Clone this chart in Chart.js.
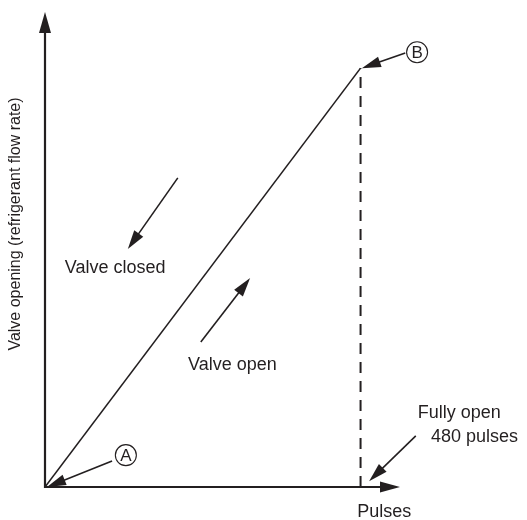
<!DOCTYPE html>
<html lang="en">
<head>
    <meta charset="UTF-8">
    <title>Valve opening vs pulses</title>
    <script src="https://cdn.jsdelivr.net/npm/chart.js@4.4.1/dist/chart.umd.min.js"></script>
    <style>
        body {
            margin: 0;
            background-color: #ffffff;
        }
        #valveChart {
            display: block;
        }
    </style>
</head>
<body>
    <canvas id="valveChart" width="527" height="520"></canvas>

    <script>
        // Characteristic: opening rises linearly from A (0 pulses) to B (480 pulses)
        const pulses = [0, 480];
        const opening = [0, 100];
        const fullyOpenPulses = [480, 480];
        const fullyOpenLevel = [0, 100];

        const ink = '#231f20';
        const fontFamily = '"Liberation Sans", Arial, sans-serif';

        // Annotations, placed in data units (pulses, % opening)
        const arrows = [
            { from: [202, 73.8], to: [126, 56.8] },   // valve closed
            { from: [237, 34.6], to: [312, 49.9] },   // valve open
            { from: [102, 6.2], to: [3, 0] },         // A
            { from: [548, 103.6], to: [482, 100] },   // B
            { from: [564, 12.2], to: [493, 1.4] }     // fully open
        ];
        const markers = [
            { text: 'A', at: [123, 7.6] },
            { text: 'B', at: [566, 103.8] }
        ];
        const labels = [
            { text: 'Valve closed', at: [30, 52.3], align: 'left' },
            { text: 'Valve open', at: [217.5, 29.1], align: 'left' },
            { text: 'Fully open', at: [567, 17.7], align: 'left' },
            { text: '480 pulses', at: [587, 11.9], align: 'left' },
            { text: 'Pulses', at: [516, -6], align: 'center' }
        ];

        function arrowHead(ctx, x1, y1, x2, y2, len, half) {
            const a = Math.atan2(y2 - y1, x2 - x1);
            ctx.beginPath();
            ctx.moveTo(x2, y2);
            ctx.lineTo(x2 - len * Math.cos(a) + half * Math.sin(a), y2 - len * Math.sin(a) - half * Math.cos(a));
            ctx.lineTo(x2 - len * Math.cos(a) - half * Math.sin(a), y2 - len * Math.sin(a) + half * Math.cos(a));
            ctx.closePath();
            ctx.fill();
        }

        function arrow(ctx, x1, y1, x2, y2, width, len, half) {
            const a = Math.atan2(y2 - y1, x2 - x1);
            ctx.lineWidth = width;
            ctx.beginPath();
            ctx.moveTo(x1, y1);
            ctx.lineTo(x2 - (len - 2) * Math.cos(a), y2 - (len - 2) * Math.sin(a));
            ctx.stroke();
            arrowHead(ctx, x1, y1, x2, y2, len, half);
        }

        const diagramPlugin = {
            id: 'diagram',
            afterDraw(chart) {
                const ctx = chart.ctx;
                const xs = chart.scales.x;
                const ys = chart.scales.y;
                const area = chart.chartArea;
                const px = v => xs.getPixelForValue(v);
                const py = v => ys.getPixelForValue(v);

                ctx.save();
                ctx.strokeStyle = ink;
                ctx.fillStyle = ink;
                ctx.lineCap = 'butt';

                // axes with arrowheads
                arrow(ctx, area.left, area.bottom + 1, area.left, area.top, 2.2, 21, 6);
                arrow(ctx, area.left - 1, area.bottom, area.right, area.bottom, 2.2, 20, 5.5);

                // annotation arrows
                arrows.forEach(a => {
                    arrow(ctx, px(a.from[0]), py(a.from[1]), px(a.to[0]), py(a.to[1]), 1.6, 19, 5.5);
                });

                // circled letters
                markers.forEach(m => {
                    const x = px(m.at[0]);
                    const y = py(m.at[1]);
                    ctx.lineWidth = 1.1;
                    ctx.beginPath();
                    ctx.arc(x, y, 10.5, 0, Math.PI * 2);
                    ctx.stroke();
                    ctx.font = '17px ' + fontFamily;
                    ctx.textAlign = 'center';
                    ctx.textBaseline = 'middle';
                    ctx.fillText(m.text, x, y + 1);
                });

                // text labels
                ctx.font = '18px ' + fontFamily;
                ctx.textBaseline = 'middle';
                labels.forEach(l => {
                    ctx.textAlign = l.align;
                    ctx.fillText(l.text, px(l.at[0]), py(l.at[1]));
                });

                // y axis title
                ctx.font = '16px ' + fontFamily;
                ctx.translate(16, 224);
                ctx.rotate(-Math.PI / 2);
                ctx.textAlign = 'center';
                ctx.fillText('Valve opening (refrigerant flow rate)', 0, 0);
                ctx.restore();
            }
        };

        new Chart(document.getElementById('valveChart'), {
            type: 'line',
            data: {
                datasets: [
                    {
                        label: 'Valve opening',
                        data: pulses.map((p, i) => ({ x: p, y: opening[i] })),
                        borderColor: ink,
                        borderWidth: 1.6,
                        pointRadius: 0,
                        tension: 0
                    },
                    {
                        label: 'Fully open',
                        data: fullyOpenPulses.map((p, i) => ({ x: p, y: fullyOpenLevel[i] })),
                        borderColor: ink,
                        borderWidth: 2,
                        borderDash: [11, 8],
                        pointRadius: 0
                    }
                ]
            },
            options: {
                responsive: false,
                animation: false,
                devicePixelRatio: 1,
                layout: {
                    padding: { left: 45, right: 127, top: 12, bottom: 33 }
                },
                scales: {
                    x: { type: 'linear', min: 0, max: 540, display: false },
                    y: { type: 'linear', min: 0, max: 113.4, display: false }
                },
                plugins: {
                    legend: { display: false },
                    tooltip: { enabled: false }
                }
            },
            plugins: [diagramPlugin]
        });
    </script>
</body>
</html>
